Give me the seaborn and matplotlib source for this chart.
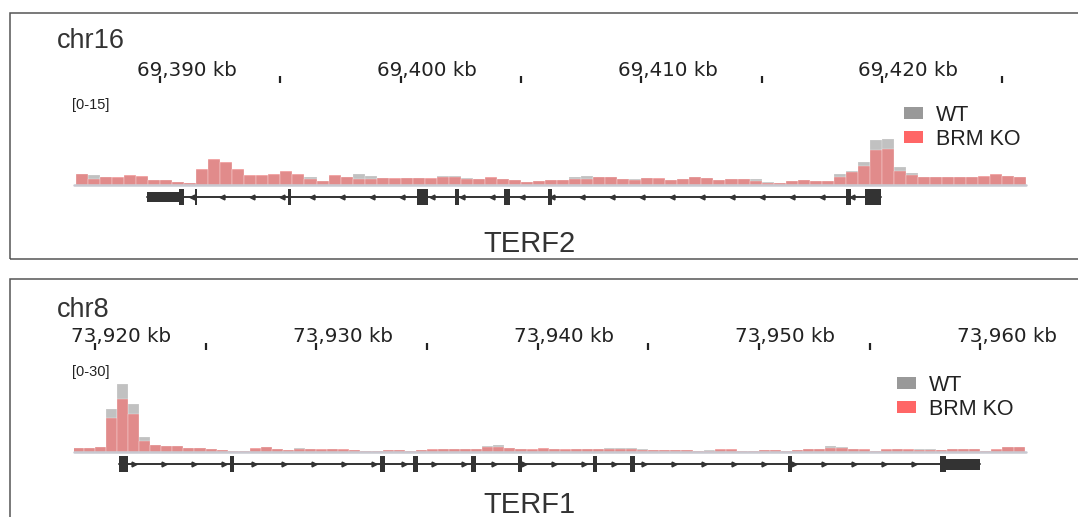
import numpy as np
import pandas as pd
import matplotlib
matplotlib.use("Agg")
import matplotlib.pyplot as plt
import matplotlib.transforms as mtrans
from matplotlib.patches import Rectangle
import seaborn as sns

# ---- coverage, 0.5 kb bins ----
bin_kb = 0.5

chr16_first_bin = 69386.5
chr16_wt = [1.9, 1.7, 1.4, 1.2, 1.5, 1.4, 0.9, 0.8, 0.5, 0.3,
            2.5, 4.2, 3.7, 2.6, 1.5, 1.5, 1.7, 2.2, 1.7, 1.4,
            0.7, 1.5, 1.4, 1.9, 1.5, 1.2, 1.0, 1.2, 1.2, 1.0,
            1.5, 1.5, 1.2, 1.0, 1.2, 1.0, 0.9, 0.5, 0.7, 0.8,
            0.9, 1.4, 1.5, 1.4, 1.3, 1.0, 1.0, 1.2, 1.0, 0.9,
            1.0, 1.4, 1.2, 0.9, 1.0, 1.1, 1.1, 0.5, 0.3, 0.7,
            0.8, 0.7, 0.7, 1.9, 2.4, 4.0, 7.6, 7.9, 3.1, 2.0,
            1.4, 1.3, 1.4, 1.3, 1.3, 1.4, 1.7, 1.5, 1.4]
chr16_ko = [1.9, 1.0, 1.4, 1.4, 1.7, 1.5, 0.9, 0.9, 0.5, 0.3,
            2.8, 4.4, 3.9, 2.8, 1.7, 1.7, 1.9, 2.4, 1.9, 1.0,
            0.7, 1.7, 1.4, 1.0, 1.0, 1.2, 1.2, 1.2, 1.2, 1.2,
            1.4, 1.4, 1.0, 1.0, 1.4, 1.0, 0.9, 0.5, 0.7, 0.9,
            0.9, 1.0, 1.1, 1.3, 1.3, 1.0, 0.9, 1.2, 1.2, 0.9,
            1.0, 1.4, 1.2, 0.9, 1.0, 1.0, 0.7, 0.4, 0.3, 0.7,
            0.9, 0.7, 0.7, 1.4, 2.2, 3.3, 6.0, 6.2, 2.4, 1.7,
            1.4, 1.3, 1.4, 1.4, 1.4, 1.5, 1.9, 1.5, 1.4]

chr8_first_bin = 73919.0
chr8_wt = [1.3, 1.3, 1.5, 14.0, 22.1, 15.5, 5.0, 2.3, 2.0, 1.8,
           1.3, 1.3, 1.0, 0.7, 0.2, 0.2, 1.1, 1.5, 1.0, 0.7,
           1.3, 1.0, 0.8, 1.0, 0.8, 0.7, 0.3, 0.3, 0.7, 0.7,
           0.3, 0.8, 0.8, 1.0, 1.0, 1.1, 1.1, 2.0, 2.3, 1.3,
           1.0, 0.8, 1.1, 0.9, 0.8, 1.0, 1.1, 1.0, 1.2, 1.2,
           1.2, 1.0, 0.7, 0.5, 0.7, 0.7, 0.3, 0.5, 0.8, 0.8,
           0.3, 0.3, 0.7, 0.5, 0.2, 0.7, 0.9, 1.0, 1.8, 1.6,
           0.9, 0.8, 0.3, 0.8, 0.9, 0.8, 1.0, 1.0, 0.8, 1.1,
           1.0, 1.0, 0.3, 0.8, 1.5, 1.6]
chr8_ko = [1.4, 1.4, 1.6, 11.0, 17.3, 12.5, 3.6, 2.3, 2.0, 2.0,
           1.3, 1.3, 1.1, 0.7, 0.2, 0.2, 1.3, 1.6, 1.0, 0.7,
           1.0, 1.0, 1.0, 1.0, 1.0, 0.7, 0.3, 0.3, 0.5, 0.5,
           0.3, 0.8, 1.0, 1.0, 1.0, 1.0, 1.0, 1.6, 1.6, 1.3,
           1.0, 1.0, 1.2, 0.9, 0.9, 1.1, 1.1, 1.1, 1.0, 1.0,
           1.0, 0.8, 0.7, 0.7, 0.7, 0.7, 0.3, 0.3, 0.9, 0.9,
           0.3, 0.3, 0.7, 0.7, 0.2, 0.8, 0.9, 0.9, 1.2, 1.2,
           0.9, 0.9, 0.3, 0.9, 0.9, 0.9, 0.7, 0.7, 0.7, 1.1,
           1.1, 1.0, 0.3, 0.9, 1.6, 1.6]

# ---- rulers (kb) ----
chr16_view = [69386.42, 69425.97]
chr16_labelled = [69390, 69400, 69410, 69420]
chr16_unlabelled = [69395, 69405, 69415, 69425]
chr8_view = [73919.06, 73962.04]
chr8_labelled = [73920, 73930, 73940, 73950, 73960]
chr8_unlabelled = [73925, 73935, 73945, 73955]

# ---- gene models (kb) ----
terf2_span = [69389.46, 69419.96]
terf2_exon_start = [69390.79, 69391.45, 69395.32, 69400.68, 69402.26,
                    69404.29, 69406.12, 69418.51, 69419.30, 69419.50]
terf2_exon_end = [69390.99, 69391.53, 69395.44, 69401.13, 69402.42,
                  69404.54, 69406.29, 69418.72, 69419.50, 69419.96]
terf2_utr_start = [69389.46]
terf2_utr_end = [69390.79]

terf1_span = [73921.09, 73960.0]
terf1_exon_start = [73921.09, 73926.11, 73932.89, 73934.38, 73937.00,
                    73939.13, 73942.52, 73944.19, 73951.29, 73958.16]
terf1_exon_end = [73921.51, 73926.29, 73933.12, 73934.61, 73937.23,
                  73939.31, 73942.70, 73944.42, 73951.51, 73958.43]
terf1_utr_start = [73958.43]
terf1_utr_end = [73960.0]

legend_labels = ["WT", "BRM KO"]

# ---- style ----
wt_color = "#999999"
ko_color = "#ff6666"
gene_color = "#333333"
text_color = "#222222"

sns.set_style("white")
plt.rcParams["font.family"] = ["Liberation Sans", "DejaVu Sans"]

W, H = 1078, 517
fig = plt.figure(figsize=(W / 100, H / 100), dpi=100)


def fx(x):
    return x / W


def fy(y):
    return 1 - y / H


def rect(x0, y0, x1, y1):
    return [fx(x0), fy(y1), (x1 - x0) / W, (y1 - y0) / H]


def draw_panel(lay, chrom, view, labelled, unlabelled, first_bin, wt, ko, ymax,
               gene, span, ex_s, ex_e, utr_s, utr_e, strand):
    # frame
    fig.add_artist(Rectangle((fx(10), fy(lay["box"][1])), (1100 - 10) / W,
                             (lay["box"][1] - lay["box"][0]) / H,
                             transform=fig.transFigure, fill=False,
                             edgecolor="#555555", linewidth=1.1))
    fig.text(fx(57), fy(lay["chrom"]), chrom, fontsize=19.5, color="#333333",
             va="baseline", ha="left")

    x0, x1 = 74, 1025.5

    # ruler: ticks every 5 kb, labels every 10 kb
    rl = fig.add_axes(rect(x0, lay["tick"] - 6, x1, lay["tick"]))
    rl.set_xlim(view)
    rl.set_ylim(0, 1)
    rl.axis("off")
    rl.vlines(labelled + unlabelled, 1, 1 + 7 / 6, color=text_color,
              linewidth=1.6, clip_on=False)
    tr = mtrans.blended_transform_factory(rl.transData, fig.transFigure)
    tr = mtrans.offset_copy(tr, fig=fig, x=-23.5, units="dots")
    for v in labelled:
        rl.text(v, fy(lay["ticklab"]), f"{v:,} kb", transform=tr,
                ha="left", va="baseline", fontsize=14.3, color=text_color,
                family="DejaVu Sans")

    # coverage
    ax = fig.add_axes(rect(x0, lay["track"][0], x1, lay["track"][1]))
    cov = pd.DataFrame({
        "pos": first_bin + bin_kb * (np.arange(len(wt)) + 0.5),
        "WT": wt,
        "BRM KO": ko,
    })
    sns.barplot(data=cov, x="pos", y="WT", native_scale=True, width=1.0,
                color=wt_color, alpha=0.6, edgecolor="white", linewidth=0.25,
                errorbar=None, ax=ax)
    sns.barplot(data=cov, x="pos", y="BRM KO", native_scale=True, width=1.0,
                color=ko_color, alpha=0.75, edgecolor="white", linewidth=0.25,
                errorbar=None, ax=ax)
    ax.axhline(0, color="#c8c8d0", linewidth=1.8, zorder=5, clip_on=False)
    ax.set_xlim(view)
    ax.set_ylim(0, ymax)
    ax.axis("off")
    fig.text(fx(72), fy(lay["scale"]), f"[0-{ymax}]", fontsize=10.5,
             color=text_color, va="baseline")

    # legend
    for i, (lab, col) in enumerate(zip(legend_labels, [wt_color, ko_color])):
        yc = lay["legend"][1] + i * 24
        fig.add_artist(Rectangle((fx(lay["legend"][0]), fy(yc + 6)), 19 / W, 12 / H,
                                 transform=fig.transFigure, color=col, lw=0))
        fig.text(fx(lay["legend"][0] + 32), fy(yc), lab, fontsize=15.5,
                 color=text_color, va="center_baseline")

    # gene model
    gc = lay["gene"]
    ga = fig.add_axes(rect(x0, gc - 10, x1, gc + 10))
    ga.set_xlim(view)
    ga.set_ylim(-1, 1)
    ga.axis("off")
    ga.plot(span, [0, 0], color=gene_color, linewidth=1.4)
    step = 30 / ((x1 - x0) / (view[1] - view[0]))
    marks = np.arange(span[0] + step / 2, span[1], step)
    ga.plot(marks, np.zeros_like(marks), linestyle="none",
            marker="<" if strand < 0 else ">", markersize=3.5, color=gene_color)
    ga.barh(0, np.subtract(ex_e, ex_s), left=ex_s, height=1.6,
            color=gene_color, linewidth=0)
    ga.barh(0, np.subtract(utr_e, utr_s), left=utr_s, height=lay["utr_h"],
            color=gene_color, linewidth=0)
    fig.text(fx(529), fy(lay["name"]), gene, fontsize=21, color="#333333",
             ha="center", va="baseline")


top_layout = {"box": (13, 259), "chrom": 48, "ticklab": 76, "tick": 89,
              "track": (97, 185), "scale": 109, "legend": (904, 113),
              "gene": 197, "utr_h": 1.0, "name": 252}
bottom_layout = {"box": (279, 540), "chrom": 317, "ticklab": 342, "tick": 356,
                 "track": (360, 452), "scale": 376, "legend": (897, 383),
                 "gene": 464, "utr_h": 1.1, "name": 513}

draw_panel(top_layout, "chr16", chr16_view, chr16_labelled, chr16_unlabelled,
           chr16_first_bin, chr16_wt, chr16_ko, 15, "TERF2", terf2_span,
           terf2_exon_start, terf2_exon_end, terf2_utr_start, terf2_utr_end, -1)
draw_panel(bottom_layout, "chr8", chr8_view, chr8_labelled, chr8_unlabelled,
           chr8_first_bin, chr8_wt, chr8_ko, 30, "TERF1", terf1_span,
           terf1_exon_start, terf1_exon_end, terf1_utr_start, terf1_utr_end, 1)

fig.savefig("out.png", dpi=100)
